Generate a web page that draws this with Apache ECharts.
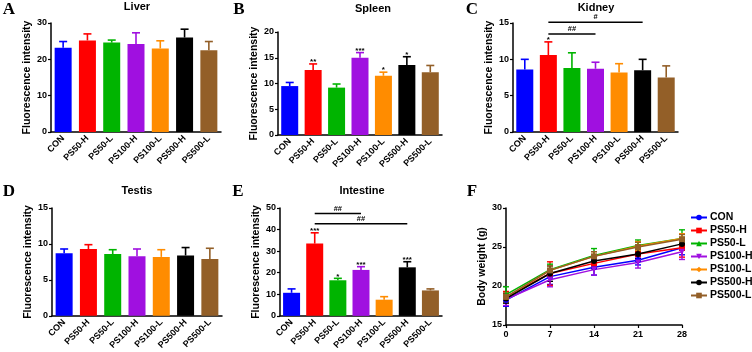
<!DOCTYPE html>
<html>
<head>
<meta charset="utf-8">
<script src="https://cdn.jsdelivr.net/npm/echarts@6/dist/echarts.min.js"></script>
<style>
  html, body { margin: 0; padding: 0; background: #fff; }
  #chart { width: 752px; height: 352px; }
</style>
</head>
<body>
<div id="chart"></div>
<script>
// groups + colours
var groups = ['CON', 'PS50-H', 'PS50-L', 'PS100-H', 'PS100-L', 'PS500-H', 'PS500-L'];
var colors = ['#0000ff', '#ff0000', '#00b400', '#a010e0', '#ff8c00', '#000000', '#935f28'];

// fluorescence intensity (mean, SD upper bar)
var liverMean = [23.2, 25.2, 24.6, 24.2, 23.0, 26.0, 22.5];
var liverErr = [1.7, 1.8, 0.7, 3.1, 2.1, 2.3, 2.4];
var spleenMean = [9.5, 12.6, 9.2, 15.0, 11.5, 13.6, 12.2];
var spleenErr = [0.7, 1.2, 0.7, 1.0, 0.7, 1.6, 1.3];
var spleenSig = ['', '**', '', '***', '*', '*', ''];
var kidneyMean = [8.6, 10.6, 8.8, 8.7, 8.2, 8.5, 7.5];
var kidneyErr = [1.4, 1.8, 2.1, 0.9, 1.2, 1.5, 1.6];
var kidneySig = ['', '*', '', '', '', '', ''];
var kidneyBrackets = [[1, 3, 13.5, '##'], [1, 5, 15.1, '#']];
var testisMean = [8.7, 9.3, 8.6, 8.3, 8.2, 8.4, 7.9];
var testisErr = [0.6, 0.6, 0.6, 1.0, 1.0, 1.1, 1.5];
var intestineMean = [10.7, 33.5, 16.5, 21.3, 7.5, 22.5, 11.8];
var intestineErr = [1.8, 5.0, 0.9, 1.5, 1.4, 2.6, 0.7];
var intestineSig = ['', '***', '*', '***', '', '***', ''];
var intestineBrackets = [[1, 3, 47.4, '##'], [1, 5, 42.7, '##']];

// body weight
var days = [0, 7, 14, 21, 28];
var weightMean = [
  [18.2, 21.2, 22.4, 23.3, 24.9],
  [18.6, 21.6, 22.9, 24.1, 24.9],
  [18.9, 22.1, 23.9, 25.2, 26.1],
  [18.3, 20.8, 22.1, 23.0, 24.4],
  [18.5, 22.0, 23.8, 25.1, 26.1],
  [18.4, 21.6, 23.2, 24.1, 25.4],
  [18.6, 22.0, 23.8, 25.0, 26.0]
];
var weightErr = [
  [0.8, 1.0, 1.0, 0.6, 0.9],
  [0.7, 1.5, 0.7, 0.9, 1.2],
  [1.0, 0.7, 0.9, 0.7, 1.1],
  [0.8, 0.9, 0.7, 0.7, 1.0],
  [0.6, 0.6, 0.6, 0.6, 0.6],
  [0.6, 1.0, 0.6, 0.6, 0.8],
  [0.5, 0.6, 0.6, 0.6, 0.6]
];
var symbols = ['circle', 'rect', 'triangle', 'path://M0,0 L10,0 L5,9 Z', 'diamond', 'circle', 'rect'];

var FONT = '"Liberation Sans", Arial, sans-serif';
var chart = echarts.init(document.getElementById('chart'));

function catAxis(gi) {
  return {
    type: 'category', gridIndex: gi, data: groups,
    axisLine: { lineStyle: { color: '#000', width: 1.5 } },
    axisTick: { alignWithLabel: true, length: 3, lineStyle: { color: '#000', width: 1.2 } },
    axisLabel: { rotate: 45, margin: 5, fontSize: 9, fontWeight: 'bold', color: '#000', fontFamily: FONT, interval: 0 }
  };
}
function valAxis(gi, min, max, step, name, gap) {
  return {
    type: 'value', gridIndex: gi, min: min, max: max, interval: step,
    name: name, nameLocation: 'middle', nameGap: gap,
    nameTextStyle: { fontSize: 10.5, fontWeight: 'bold', color: '#000', fontFamily: FONT },
    splitLine: { show: false },
    axisLine: { show: true, lineStyle: { color: '#000', width: 1.5 } },
    axisTick: { show: true, length: 3, lineStyle: { color: '#000', width: 1.2 } },
    axisLabel: { margin: 4, fontSize: 9, fontWeight: 'bold', color: '#000', fontFamily: FONT }
  };
}

function barSeries(gi, mean) {
  return {
    type: 'bar', xAxisIndex: gi, yAxisIndex: gi, data: mean, barWidth: 17,
    itemStyle: { color: function (p) { return colors[p.dataIndex]; } }
  };
}

function errSeries(gi, mean, err, sig) {
  return {
    type: 'custom', xAxisIndex: gi, yAxisIndex: gi, z: 3,
    data: mean.map(function (m, i) { return [i, m, err[i]]; }),
    renderItem: function (params, api) {
      var i = params.dataIndex;
      var p0 = api.coord([api.value(0), api.value(1)]);
      var p1 = api.coord([api.value(0), api.value(1) + api.value(2)]);
      var c = colors[i];
      var kids = [
        { type: 'line', shape: { x1: p0[0], y1: p0[1], x2: p1[0], y2: p1[1] }, style: { stroke: c, lineWidth: 1.6 } },
        { type: 'line', shape: { x1: p1[0] - 4, y1: p1[1], x2: p1[0] + 4, y2: p1[1] }, style: { stroke: c, lineWidth: 1.6 } }
      ];
      if (sig && sig[i]) {
        kids.push({ type: 'text', style: { text: sig[i], x: p1[0], y: p1[1] + 2, align: 'center', verticalAlign: 'bottom',
          fontSize: 8, fontWeight: 'bold', fill: '#000', fontFamily: FONT } });
      }
      return { type: 'group', children: kids };
    }
  };
}

function bracketSeries(gi, br) {
  return {
    type: 'custom', xAxisIndex: gi, yAxisIndex: gi, clip: false, z: 4,
    data: br.map(function (b) { return [b[0], b[1], b[2]]; }),
    renderItem: function (params, api) {
      var a = api.coord([api.value(0), api.value(2)]);
      var b = api.coord([api.value(1), api.value(2)]);
      return { type: 'group', children: [
        { type: 'line', shape: { x1: a[0], y1: a[1], x2: b[0], y2: b[1] }, style: { stroke: '#000', lineWidth: 1.5 } },
        { type: 'text', style: { text: br[params.dataIndex][3], x: (a[0] + b[0]) / 2, y: a[1] - 1, align: 'center', verticalAlign: 'bottom',
          fontSize: 7.5, fontWeight: 'bold', fill: '#000', fontFamily: FONT } }
      ] };
    }
  };
}

var series = [
  barSeries(0, liverMean), errSeries(0, liverMean, liverErr, null),
  barSeries(1, spleenMean), errSeries(1, spleenMean, spleenErr, spleenSig),
  barSeries(2, kidneyMean), errSeries(2, kidneyMean, kidneyErr, kidneySig), bracketSeries(2, kidneyBrackets),
  barSeries(3, testisMean), errSeries(3, testisMean, testisErr, null),
  barSeries(4, intestineMean), errSeries(4, intestineMean, intestineErr, intestineSig), bracketSeries(4, intestineBrackets)
];

groups.forEach(function (g, k) {
  series.push({
    name: g, type: 'line', xAxisIndex: 5, yAxisIndex: 5, z: 3,
    data: days.map(function (d, j) { return [d, weightMean[k][j]]; }),
    symbol: symbols[k], symbolSize: 6,
    lineStyle: { color: colors[k], width: 1.5 },
    itemStyle: { color: colors[k] }
  });
  series.push({
    type: 'custom', xAxisIndex: 5, yAxisIndex: 5, z: 2,
    data: days.map(function (d, j) { return [d, weightMean[k][j], weightErr[k][j]]; }),
    renderItem: function (params, api) {
      var x = api.value(0), m = api.value(1), e = api.value(2);
      var lo = api.coord([x, m - e]), hi = api.coord([x, m + e]);
      var c = colors[k];
      return { type: 'group', children: [
        { type: 'line', shape: { x1: lo[0], y1: lo[1], x2: hi[0], y2: hi[1] }, style: { stroke: c, lineWidth: 1.4 } },
        { type: 'line', shape: { x1: lo[0] - 3, y1: lo[1], x2: lo[0] + 3, y2: lo[1] }, style: { stroke: c, lineWidth: 1.4 } },
        { type: 'line', shape: { x1: hi[0] - 3, y1: hi[1], x2: hi[0] + 3, y2: hi[1] }, style: { stroke: c, lineWidth: 1.4 } }
      ] };
    }
  });
});

var fAxisX = {
  type: 'value', gridIndex: 5, min: 0, max: 28, interval: 7,
  splitLine: { show: false },
  axisLine: { lineStyle: { color: '#000', width: 1.5 } },
  axisTick: { length: 3, lineStyle: { color: '#000', width: 1.2 } },
  axisLabel: { margin: 5, fontSize: 9, fontWeight: 'bold', color: '#000', fontFamily: FONT }
};

function label(text, x, y, size, serif) {
  return { type: 'text', x: x, y: y, style: { text: text, align: 'center', verticalAlign: 'middle',
    fontSize: size, fontWeight: 'bold', fill: '#000',
    fontFamily: serif ? '"Liberation Serif", "Times New Roman", serif' : FONT } };
}

var option = {
  animation: false,
  backgroundColor: '#fff',
  grid: [
    { left: 51, top: 23, width: 170, height: 109 },
    { left: 278, top: 32, width: 164, height: 103 },
    { left: 513, top: 23, width: 165, height: 109 },
    { left: 52, top: 208, width: 170, height: 109 },
    { left: 280, top: 208, width: 162, height: 109 },
    { left: 506, top: 208, width: 176, height: 117 }
  ],
  xAxis: [catAxis(0), catAxis(1), catAxis(2), catAxis(3), catAxis(4), fAxisX],
  yAxis: [
    valAxis(0, 0, 30, 10, 'Fluorescence intensity', 14),
    valAxis(1, 0, 20, 5, 'Fluorescence intensity', 13),
    valAxis(2, 0, 15, 5, 'Fluorescence intensity', 15),
    valAxis(3, 0, 15, 5, 'Fluorescence intensity', 14),
    valAxis(4, 0, 50, 10, 'Fluorescence intensity', 14),
    valAxis(5, 15, 30, 5, 'Body weight (g)', 17)
  ],
  legend: {
    orient: 'vertical', left: 685, top: 207, itemWidth: 16, itemHeight: 7, itemGap: 2,
    data: groups,
    textStyle: { fontSize: 10.5, fontWeight: 'bold', color: '#000', fontFamily: FONT, padding: [0, 0, 0, -2] }
  },
  graphic: [
    label('A', 9, 10, 17, true), label('B', 239, 10, 17, true), label('C', 472, 10, 17, true),
    label('D', 9, 192, 17, true), label('E', 238, 192, 17, true), label('F', 472, 192, 17, true),
    label('Liver', 137, 7, 11), label('Spleen', 373, 9, 11), label('Kidney', 596, 8, 11),
    label('Testis', 137, 191, 11), label('Intestine', 362, 191, 11)
  ],
  series: series
};
chart.setOption(option);
</script>
</body>
</html>
